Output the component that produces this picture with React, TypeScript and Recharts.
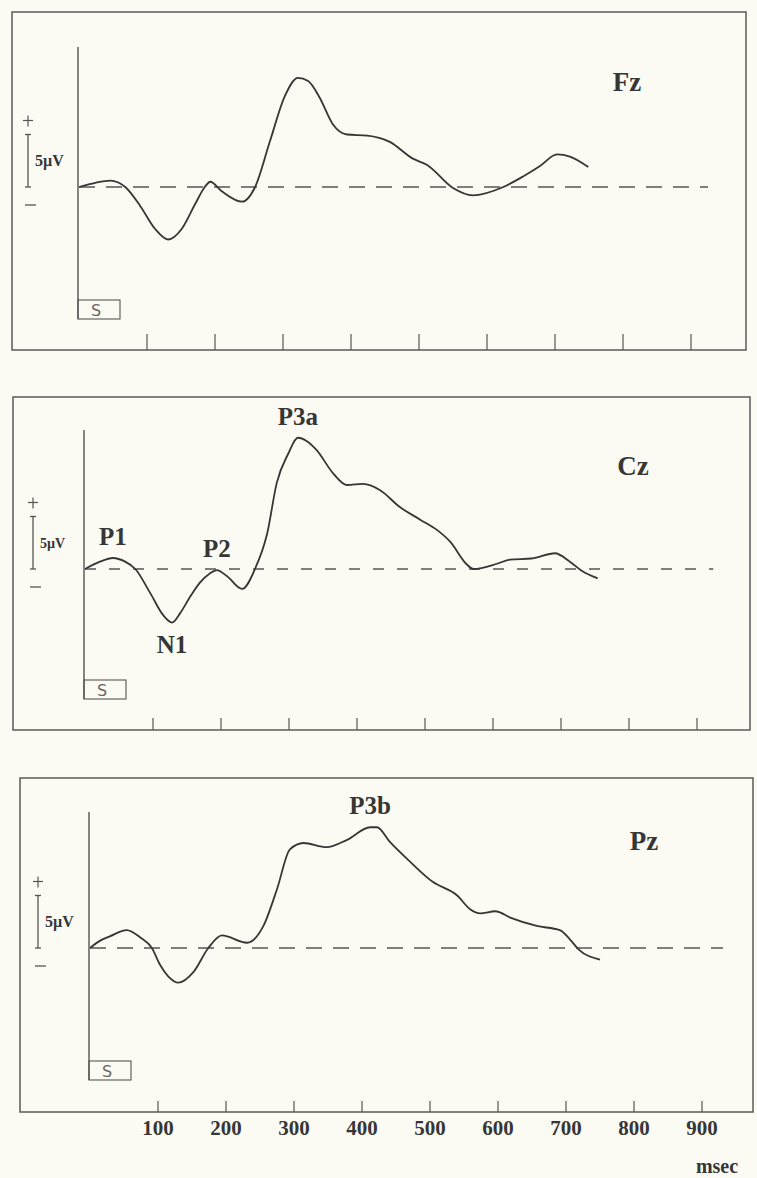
import React from 'react';
import { LineChart, Line, XAxis, YAxis, ReferenceLine, ReferenceDot } from 'recharts';

// ERP traces: time in ms, amplitude in µV
const fzTime = [0, 24, 46, 68, 90, 112, 131, 151, 171, 185, 193, 210, 240, 259, 281, 303, 322, 337, 354, 373, 394, 424, 457, 491, 512, 550, 579, 624, 653, 678, 703, 722, 749];
const fzUv = [0, 0.4, 0.6, 0, -1.8, -4, -5.0, -4, -1.6, 0, 0.5, -0.4, -1.4, 0, 4.4, 8.7, 10.4, 10.1, 8.5, 6.0, 5.0, 4.9, 4.3, 2.7, 2.1, -0.1, -0.8, 0, 1.0, 2.0, 3.1, 2.9, 1.9];

const czTime = [0, 22, 41, 59, 74, 96, 115, 128, 140, 155, 169, 184, 194, 209, 231, 250, 268, 282, 299, 313, 328, 341, 365, 385, 409, 434, 463, 493, 518, 537, 562, 571, 606, 625, 657, 691, 713, 731, 754];
const czUv = [0, 0.7, 1.05, 0.7, 0, -2.3, -4.4, -5.1, -4.2, -2.6, -1.3, -0.4, -0.1, -0.7, -1.9, 0, 3.4, 8.2, 11.0, 12.5, 12.1, 11.3, 9.1, 8.0, 8.1, 7.5, 5.9, 4.7, 3.7, 2.6, 0.4, 0, 0.5, 0.9, 1.0, 1.5, 0.7, -0.2, -0.9];

const pzTime = [0, 15, 29, 54, 74, 91, 103, 115, 130, 152, 174, 194, 231, 255, 275, 294, 314, 348, 378, 412, 422, 441, 471, 504, 540, 559, 574, 596, 618, 657, 691, 706, 718, 750];
const pzUv = [0, 0.7, 1.1, 1.7, 1.0, 0, -1.6, -2.7, -3.3, -2.3, 0, 1.2, 0.5, 2.1, 5.6, 9.4, 10.0, 9.6, 10.3, 11.5, 11.5, 10.1, 8.2, 6.3, 5.0, 3.7, 3.3, 3.5, 2.9, 2.1, 1.7, 0.8, -0.1, -1.1];

// component labels
const czPeakNames = ['P1', 'N1', 'P2', 'P3a'];
const czPeakTime = [41, 128, 194, 313];
const czPeakUv = [1.05, -5.1, -0.1, 12.5];
const pzPeakNames = ['P3b'];
const pzPeakTime = [412];
const pzPeakUv = [11.5];

const tickValues = [100, 200, 300, 400, 500, 600, 700, 800, 900];
const scaleBarUv = 5;

const PX_PER_MS = 0.68;
const PX_PER_UV = 10.5;
const INK = '#363636';
const SERIF = '"Liberation Serif", "Times New Roman", serif';

const panels = [
  {
    name: 'Fz', time: fzTime, uv: fzUv, peakNames: [] as string[], peakTime: [] as number[], peakUv: [] as number[],
    l: 12, t: 12, r: 746, b: 350, zx: 79, zy: 187, axisTop: 47, axisBottom: 319,
    barX: 28, uvSize: 16, nameX: 627, nameY: 91, tickLen: 16, dash: '16 11', dashEnd: 925, labels: false,
  },
  {
    name: 'Cz', time: czTime, uv: czUv, peakNames: czPeakNames, peakTime: czPeakTime, peakUv: czPeakUv,
    l: 13, t: 397, r: 750, b: 730, zx: 85, zy: 569, axisTop: 430, axisBottom: 699,
    barX: 33, uvSize: 14, nameX: 633, nameY: 475, tickLen: 12, dash: '11 13', dashEnd: 924, labels: false,
  },
  {
    name: 'Pz', time: pzTime, uv: pzUv, peakNames: pzPeakNames, peakTime: pzPeakTime, peakUv: pzPeakUv,
    l: 20, t: 778, r: 753, b: 1112, zx: 90, zy: 948, axisTop: 812, axisBottom: 1080,
    barX: 38, uvSize: 16, nameX: 644, nameY: 850, tickLen: 11, dash: '16 11', dashEnd: 931, labels: true,
  },
];

const makeTick = (len: number, showLabel: boolean) => (props: any) => {
  const { x, y, payload } = props;
  return (
    <g>
      <line x1={x} x2={x} y1={y} y2={y - len} stroke="#555" strokeWidth={1.2} />
      {showLabel && (
        <text x={x} y={y + 23} textAnchor="middle" fontFamily={SERIF} fontWeight="bold" fontSize={21} fill={INK}>
          {payload.value}
        </text>
      )}
    </g>
  );
};

const Panel = ({ p }: { p: typeof panels[number] }) => {
  const w = p.r - p.l;
  const h = p.b - p.t;
  const axisH = p.labels ? 50 : 2;
  const xMin = -(p.zx - p.l) / PX_PER_MS;
  const xMax = (p.r - p.zx) / PX_PER_MS;
  const yMax = (p.zy - p.t) / PX_PER_UV;
  const yMin = -(p.b - p.zy) / PX_PER_UV;
  const barT = (p.barX - p.zx) / PX_PER_MS;
  const cap = 3 / PX_PER_MS;
  const data = p.time.map((t, i) => ({ t, v: p.uv[i] }));

  return (
    <div style={{ position: 'absolute', left: p.l, top: p.t }}>
      <LineChart width={w} height={h + axisH} data={data} margin={{ top: 0, right: 0, bottom: 0, left: 0 }}>
        <XAxis
          type="number"
          dataKey="t"
          domain={[xMin, xMax]}
          allowDataOverflow
          ticks={tickValues}
          interval={0}
          height={axisH}
          tickSize={0}
          tickMargin={0}
          axisLine={false}
          tickLine={false}
          tick={makeTick(p.tickLen, p.labels)}
        />
        <YAxis type="number" domain={[yMin, yMax]} allowDataOverflow hide />
        <ReferenceLine
          segment={[{ x: 0, y: 0 }, { x: p.dashEnd, y: 0 }]}
          stroke="#555"
          strokeWidth={1.3}
          strokeDasharray={p.dash}
        />
        <ReferenceLine segment={[{ x: barT, y: 0 }, { x: barT, y: scaleBarUv }]} stroke="#555" strokeWidth={1.3} />
        <ReferenceLine segment={[{ x: barT - cap, y: 0 }, { x: barT + cap, y: 0 }]} stroke="#555" strokeWidth={1.3} />
        <ReferenceLine segment={[{ x: barT - cap, y: scaleBarUv }, { x: barT + cap, y: scaleBarUv }]} stroke="#555" strokeWidth={1.3} />
        <Line
          type="monotone"
          dataKey="v"
          stroke={INK}
          strokeWidth={1.8}
          dot={false}
          activeDot={false}
          isAnimationActive={false}
        />
        {p.peakNames.map((name, i) => (
          <ReferenceDot
            key={name}
            x={p.peakTime[i]}
            y={p.peakUv[i]}
            r={0}
            stroke="none"
            fill="none"
            label={{
              value: name,
              position: p.peakUv[i] < -1 ? 'bottom' : 'top',
              offset: 13,
              fontFamily: SERIF,
              fontWeight: 'bold',
              fontSize: 25,
              fill: INK,
            }}
          />
        ))}
      </LineChart>
    </div>
  );
};

const Decorations = () => (
  <svg width={757} height={1178} style={{ position: 'absolute', left: 0, top: 0, pointerEvents: 'none' }}>
    {panels.map((p) => {
      const barTop = p.zy - scaleBarUv * PX_PER_UV;
      return (
        <g key={p.name}>
          <rect x={p.l} y={p.t} width={p.r - p.l} height={p.b - p.t} fill="none" stroke="#5a5a5a" strokeWidth={1.5} />
          <line x1={p.zx - 1} x2={p.zx - 1} y1={p.axisTop} y2={p.axisBottom} stroke="#444" strokeWidth={1.3} />
          <rect x={p.zx - 1} y={p.axisBottom - 19} width={42} height={19} fill="none" stroke="#555" strokeWidth={1.1} />
          <text x={p.zx + 12} y={p.axisBottom - 3} fontFamily='"DejaVu Sans", sans-serif' fontSize={16} fill="#666">S</text>
          {/* + / − polarity marks */}
          <line x1={p.barX - 5} x2={p.barX + 5} y1={barTop - 14} y2={barTop - 14} stroke="#555" strokeWidth={1.2} />
          <line x1={p.barX} x2={p.barX} y1={barTop - 19} y2={barTop - 8} stroke="#555" strokeWidth={1.2} />
          <line x1={p.barX - 3} x2={p.barX + 8} y1={p.zy + 18} y2={p.zy + 18} stroke="#555" strokeWidth={1.3} />
          <text x={p.barX + 7} y={p.zy - 2.5 * PX_PER_UV + 5} fontFamily={SERIF} fontWeight="bold" fontSize={p.uvSize} fill={INK}>
            5µV
          </text>
          <text x={p.nameX} y={p.nameY} textAnchor="middle" fontFamily={SERIF} fontWeight="bold" fontSize={27} fill={INK}>
            {p.name}
          </text>
        </g>
      );
    })}
    <text x={717} y={1173} textAnchor="middle" fontFamily={SERIF} fontWeight="bold" fontSize={20} fill={INK}>
      msec
    </text>
  </svg>
);

export default function App() {
  return (
    <div style={{ position: 'absolute', left: 0, top: 0, width: 757, height: 1178, background: '#fbfbf3', overflow: 'hidden' }}>
      {panels.map((p) => (
        <Panel key={p.name} p={p} />
      ))}
      <Decorations />
    </div>
  );
}
